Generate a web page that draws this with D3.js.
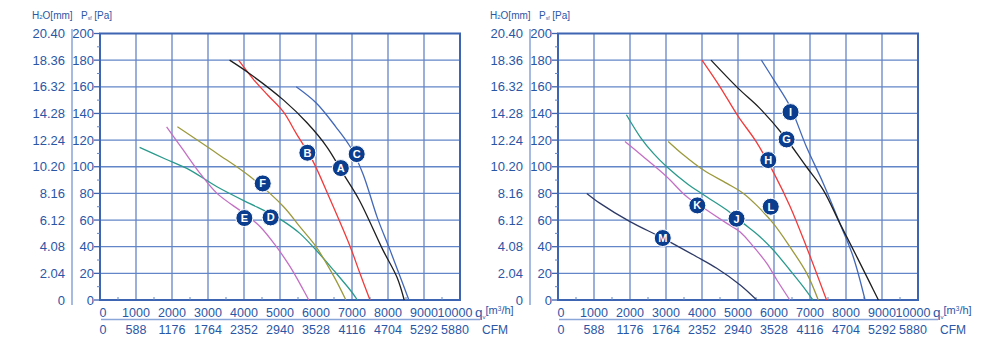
<!DOCTYPE html>
<html>
<head>
<meta charset="utf-8">
<script src="https://cdn.jsdelivr.net/npm/d3@7"></script>
<style>
  body { margin: 0; background: #fff; }
  svg { display: block; font-family: "Liberation Sans", Arial, sans-serif; }
</style>
</head>
<body>
<svg id="chart" width="1000" height="351"></svg>
<script>
// axis values
const qTicks = [0, 1000, 2000, 3000, 4000, 5000, 6000, 7000, 8000, 9000, 10000];
const cfmLabels = ["0", "588", "1176", "1764", "2352", "2940", "3528", "4116", "4704", "5292", "5880"];
const paTicks = [0, 20, 40, 60, 80, 100, 120, 140, 160, 180, 200];
const h2oLabels = ["0", "2.04", "4.08", "6.12", "8.16", "10.20", "12.24", "14.28", "16.32", "18.36", "20.40"];

// left panel curves, [q m3/h, Pa]
const curveA = [[3600, 180], [4150, 170], [5100, 150], [5750, 133], [6300, 115], [6750, 95], [7200, 75], [7850, 38], [8250, 17], [8450, 0]];
const curveB = [[3850, 180], [4250, 166], [4650, 154], [5100, 141], [5450, 125], [5900, 105], [6400, 75], [6950, 40], [7220, 20], [7500, 0]];
const curveC = [[5450, 160], [6000, 148], [6550, 130], [6950, 115], [7300, 95], [7700, 62], [8050, 38], [8330, 18], [8580, 0]];
const curveD = [[1100, 114.5], [1800, 106], [2500, 97.5], [3250, 85], [4150, 72.5], [4650, 66], [5100, 59], [5550, 50], [6000, 37.5], [6500, 22], [6950, 7.5], [7150, 0]];
const curveE = [[1850, 130], [2300, 113], [2780, 95], [3250, 80], [4000, 65], [4450, 55], [4900, 40], [5280, 25], [5650, 7.5], [5800, 0]];
const curveF = [[2150, 130], [3250, 110], [4150, 93], [5100, 70], [5550, 55], [6000, 40], [6500, 17.5], [6830, 0]];

// right panel curves
const curveG = [[4250, 180], [5000, 159], [5600, 144], [6250, 124], [6900, 100], [7370, 82.5], [7830, 57.5], [8300, 32.5], [8670, 12.5], [8900, 0]];
const curveH = [[4000, 180], [4500, 160], [5000, 138], [5500, 119], [6000, 95], [6450, 70], [6900, 40], [7460, 0]];
const curveI = [[5650, 180], [6000, 165], [6450, 145], [6900, 115], [7370, 87.5], [7830, 57.5], [8200, 32.5], [8530, 0]];
const curveJ = [[1900, 139], [2280, 122.5], [2650, 110], [3020, 100], [3580, 87.5], [4040, 79], [4690, 67.5], [5150, 57.5], [5610, 47.5], [5980, 37.5], [6440, 22.5], [6810, 10], [7080, 0]];
const curveK = [[1860, 119], [2370, 107.5], [3020, 92.5], [3580, 77.5], [4130, 67.5], [4690, 57.5], [5060, 51], [5430, 40], [5800, 27.5], [6080, 15], [6440, 0]];
const curveL = [[3060, 119], [3480, 109], [4040, 97.5], [4690, 87.5], [5150, 80], [5520, 71], [5980, 57.5], [6440, 40], [6910, 20], [7230, 0]];
const curveM = [[800, 80], [1170, 72.5], [2000, 58.8], [2920, 46.3], [3850, 32.5], [4410, 23.8], [5060, 11.3], [5520, 0]];

// badge positions [name, q, Pa]
const labelsLeft = [["A", 6690, 99], ["B", 5760, 110.5], ["C", 7130, 109.5], ["D", 4740, 62], ["E", 4010, 61.5], ["F", 4520, 87.5]];
const labelsRight = [["G", 6350, 120.5], ["H", 5840, 105], ["I", 6460, 141], ["J", 4960, 61], ["K", 3870, 71], ["L", 5910, 70], ["M", 2910, 46.5]];

const colors = {
  A: "#1e1e1e", B: "#f23a3a", C: "#4368b8", D: "#2a9a8c", E: "#c470c4", F: "#9c9a3c",
  G: "#1e1e1e", H: "#f23a3a", I: "#4368b8", J: "#2a9a8c", K: "#c470c4", L: "#9c9a3c", M: "#2e3a66"
};

const txt = "#2a56a6";
const gridCol = "#6386c8";
const svg = d3.select("#chart");

function drawPanel(x0, curves, labels) {
  const x = d3.scaleLinear().domain([0, 10000]).range([x0, x0 + 360]);
  const y = d3.scaleLinear().domain([0, 200]).range([300, 33.5]);
  const g = svg.append("g");

  // grid
  g.selectAll(".vg").data(qTicks.slice(1, -1)).join("line")
    .attr("x1", d => x(d)).attr("x2", d => x(d)).attr("y1", y(0)).attr("y2", y(200))
    .attr("stroke", gridCol).attr("stroke-width", 1.3);
  g.selectAll(".hg").data(paTicks.slice(1, -1)).join("line")
    .attr("x1", x(0)).attr("x2", x(10000)).attr("y1", d => y(d)).attr("y2", d => y(d))
    .attr("stroke", gridCol).attr("stroke-width", 1.3);
  g.append("rect")
    .attr("x", x(0)).attr("y", y(200)).attr("width", x(10000) - x(0)).attr("height", y(0) - y(200))
    .attr("fill", "none").attr("stroke", "#3d65b2").attr("stroke-width", 2);

  // minor ticks
  g.selectAll(".mx").data(d3.range(500, 10000, 1000)).join("line")
    .attr("x1", d => x(d)).attr("x2", d => x(d)).attr("y1", y(0)).attr("y2", y(0) - 3)
    .attr("stroke", gridCol).attr("stroke-width", 1);
  g.selectAll(".my").data(d3.range(10, 200, 20)).join("line")
    .attr("x1", x(0) - 3).attr("x2", x(0)).attr("y1", d => y(d)).attr("y2", d => y(d))
    .attr("stroke", gridCol).attr("stroke-width", 1);
  g.selectAll(".My").data(paTicks).join("line")
    .attr("x1", x(0) - 6).attr("x2", x(0)).attr("y1", d => y(d)).attr("y2", d => y(d))
    .attr("stroke", "#3d65b2").attr("stroke-width", 1.3);

  // y labels
  g.selectAll(".pa").data(paTicks).join("text")
    .attr("x", x(0) - 6).attr("y", d => y(d) + 4.5).attr("text-anchor", "end")
    .attr("font-size", 13).attr("fill", txt).text(d => d);
  g.selectAll(".h2o").data(h2oLabels).join("text")
    .attr("x", x(0) - 35).attr("y", (d, i) => y(paTicks[i]) + 4.5).attr("text-anchor", "end")
    .attr("font-size", 13).attr("fill", txt).text(d => d);
  g.append("line").attr("x1", x(0) - 28).attr("x2", x(0) - 28).attr("y1", 29).attr("y2", 305)
    .attr("stroke", "#8aa5d8").attr("stroke-width", 1.5);

  // headers
  const h1 = g.append("text").attr("x", x(0) - 68).attr("y", 18.5).attr("font-size", 10).attr("fill", txt);
  h1.append("tspan").text("H");
  h1.append("tspan").attr("font-size", 6).text("2");
  h1.append("tspan").text("O[mm]");
  const h2 = g.append("text").attr("x", x(0) - 19).attr("y", 18.5).attr("font-size", 10).attr("fill", txt);
  h2.append("tspan").text("P");
  h2.append("tspan").attr("font-size", 5).attr("dy", 1).text("sf");
  h2.append("tspan").attr("dy", -1).text(" [Pa]");

  // x labels
  const qx = (d, i) => i === 0 ? x(d) + 3 : (i === qTicks.length - 1 ? x(d) - 5 : x(d));
  g.selectAll(".ql").data(qTicks).join("text")
    .attr("x", qx).attr("y", 317).attr("text-anchor", "middle")
    .attr("font-size", 12.5).attr("fill", txt).text(d => d);
  g.selectAll(".cl").data(cfmLabels).join("text")
    .attr("x", (d, i) => qx(qTicks[i], i)).attr("y", 334).attr("text-anchor", "middle")
    .attr("font-size", 12.5).attr("fill", txt).text(d => d);
  g.append("line").attr("x1", x(0) + 1).attr("x2", x(0) + 380).attr("y1", 319.5).attr("y2", 319.5)
    .attr("stroke", "#8aa5d8").attr("stroke-width", 1.5);
  const u = g.append("text").attr("x", x(10000) + 15).attr("y", 317).attr("font-size", 13.5).attr("fill", txt);
  u.append("tspan").text("q");
  u.append("tspan").attr("font-size", 6).attr("dy", 2).text("v");
  u.append("tspan").attr("font-size", 11).attr("dy", -5).text("[m");
  u.append("tspan").attr("font-size", 6.5).attr("dy", -3).text("3");
  u.append("tspan").attr("font-size", 11).attr("dy", 3).text("/h]");
  g.append("text").attr("x", x(10000) + 22).attr("y", 334).attr("font-size", 12)
    .attr("fill", txt).text("CFM");

  // curves
  const line = d3.line().x(d => x(d[0])).y(d => y(d[1])).curve(d3.curveCatmullRom.alpha(0.5));
  Object.entries(curves).forEach(([k, pts]) => {
    g.append("path").attr("d", line(pts)).attr("fill", "none")
      .attr("stroke", colors[k]).attr("stroke-width", 1.3);
  });

  // badges
  const b = g.selectAll(".badge").data(labels).join("g")
    .attr("transform", d => `translate(${x(d[1])},${y(d[2])})`);
  b.append("circle").attr("r", 8.5).attr("fill", "#0b3d8e").attr("stroke", "#fff").attr("stroke-width", 1);
  b.append("text").attr("y", 4).attr("text-anchor", "middle").attr("font-size", 11)
    .attr("font-weight", "bold").attr("fill", "#fff").text(d => d[0]);
}

drawPanel(100, { D: curveD, E: curveE, F: curveF, C: curveC, B: curveB, A: curveA }, labelsLeft);
drawPanel(558, { M: curveM, K: curveK, J: curveJ, L: curveL, I: curveI, H: curveH, G: curveG }, labelsRight);
</script>
</body>
</html>
